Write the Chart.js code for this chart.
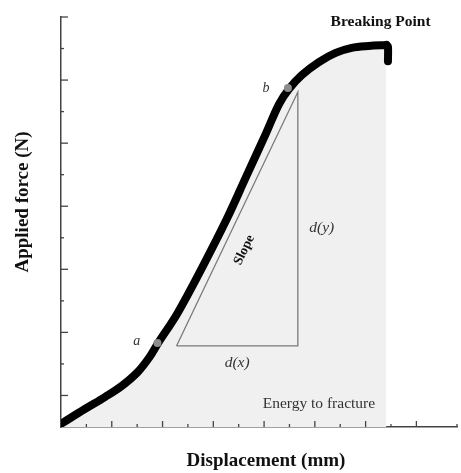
<!DOCTYPE html>
<html><head><meta charset="utf-8">
<script src="https://cdn.jsdelivr.net/npm/chart.js@4.4.0/dist/chart.umd.min.js"></script>
<style>html,body{margin:0;padding:0;background:#fff}#wrap{width:461px;height:473px}</style>
</head><body><div id="wrap"><canvas id="c" width="461" height="473"></canvas></div>
<script>
// Force–displacement curve (relative units)
const curveX = [0.00, 0.94, 1.73, 2.39, 3.02, 3.49, 3.80, 4.59, 5.57, 6.51, 7.29, 8.08, 8.59, 8.98, 9.49, 10.16, 10.82, 11.45, 12.12, 12.82];
const curveY = [0.10, 0.57, 0.95, 1.30, 1.74, 2.22, 2.63, 3.61, 5.07, 6.56, 7.93, 9.32, 10.24, 10.72, 11.16, 11.57, 11.86, 12.02, 12.08, 12.11];
// Break (drop at the end)
const breakX = [12.82, 12.88, 12.88];
const breakY = [12.11, 12.06, 11.60];
// Marked points a and b
const markerLabels = ['a', 'b'];
const markerX = [3.80, 8.94];
const markerY = [2.66, 10.75];
// Slope triangle
const triangleX = [4.55, 9.33, 9.33, 4.55];
const triangleY = [2.57, 2.57, 10.62, 2.57];
// Axis ranges / tick steps
const xMax = 15.6, yMax = 13, tickStep = 1;
// Text
const xTitle = 'Displacement (mm)';
const yTitle = 'Applied force (N)';
const notes = [
  {text: 'a', x: 2.98, y: 2.73, font: 'italic 14px "Liberation Serif", serif', color: '#333', rot: 0},
  {text: 'b', x: 8.08, y: 10.75, font: 'italic 14px "Liberation Serif", serif', color: '#333', rot: 0},
  {text: 'Slope', x: 7.22, y: 5.61, font: 'bold 13.5px "Liberation Serif", serif', color: '#111', rot: -64},
  {text: 'd(y)', x: 10.27, y: 6.31, font: 'italic 15.5px "Liberation Serif", serif', color: '#333', rot: 0},
  {text: 'd(x)', x: 6.94, y: 2.03, font: 'italic 15.5px "Liberation Serif", serif', color: '#333', rot: 0},
  {text: 'Energy to fracture', x: 10.16, y: 0.73, font: '15.5px "Liberation Serif", serif', color: '#333', rot: 0},
  {text: 'Breaking Point', x: 12.59, y: 12.84, font: 'bold 15.5px "Liberation Serif", serif', color: '#111', rot: 0}
];

const zip = (xs, ys) => xs.map((x, i) => ({x, y: ys[i]}));

const decor = {
  id: 'decor',
  afterDraw(chart) {
    const ctx = chart.ctx, xs = chart.scales.x, ys = chart.scales.y;
    const area = chart.chartArea;
    ctx.save();
    ctx.strokeStyle = '#444';
    ctx.lineWidth = 1.3;
    xs.ticks.forEach(t => {
      if (t.value === 0) return;
      const px = xs.getPixelForValue(t.value);
      const len = (t.value % 2 === 0) ? 6 : 3;
      ctx.beginPath(); ctx.moveTo(px, area.bottom); ctx.lineTo(px, area.bottom - len); ctx.stroke();
    });
    ys.ticks.forEach(t => {
      if (t.value === 0) return;
      const py = ys.getPixelForValue(t.value);
      const len = (t.value % 2 === 1) ? 7 : 3;
      ctx.beginPath(); ctx.moveTo(area.left, py); ctx.lineTo(area.left + len, py); ctx.stroke();
    });
    ctx.textAlign = 'center';
    ctx.textBaseline = 'middle';
    notes.forEach(n => {
      ctx.save();
      ctx.translate(xs.getPixelForValue(n.x), ys.getPixelForValue(n.y));
      ctx.rotate(n.rot * Math.PI / 180);
      ctx.font = n.font; ctx.fillStyle = n.color;
      ctx.fillText(n.text, 0, 0);
      ctx.restore();
    });
    ctx.font = 'bold 19px "Liberation Serif", serif';
    ctx.fillStyle = '#111';
    ctx.fillText(xTitle, 266, 461);
    ctx.save();
    ctx.translate(23, 202);
    ctx.rotate(-Math.PI / 2);
    ctx.fillText(yTitle, 0, 0);
    ctx.restore();
    ctx.restore();
  }
};

new Chart(document.getElementById('c'), {
  type: 'line',
  data: {
    datasets: [
      {data: zip(markerX, markerY), type: 'scatter', pointRadius: 4, pointBackgroundColor: '#8c8c8c', pointBorderWidth: 0, order: 0},
      {data: zip(breakX, breakY), borderColor: '#000', borderWidth: 8, borderCapStyle: 'round', borderJoinStyle: 'round', pointRadius: 0, tension: 0.3, fill: false, order: 1},
      {data: zip(curveX, curveY), borderColor: '#000', borderWidth: 8, borderCapStyle: 'round', borderJoinStyle: 'round', pointRadius: 0, tension: 0.35, fill: 'origin', backgroundColor: '#f0f0f0', order: 2},
      {data: zip(triangleX, triangleY), borderColor: '#7a7a7a', borderWidth: 1.3, pointRadius: 0, tension: 0, fill: false, order: 3}
    ]
  },
  options: {
    responsive: false,
    animation: false,
    layout: {padding: {left: 61, top: 17, right: 2, bottom: 46}},
    plugins: {legend: {display: false}, tooltip: {enabled: false}, filler: {drawTime: 'beforeDatasetsDraw'}},
    scales: {
      x: {type: 'linear', min: 0, max: xMax, ticks: {display: false, stepSize: tickStep}, grid: {display: false, drawTicks: false}, border: {display: true, color: '#444', width: 1.5}},
      y: {type: 'linear', min: 0, max: yMax, ticks: {display: false, stepSize: tickStep}, grid: {display: false, drawTicks: false}, border: {display: true, color: '#444', width: 1.5}}
    }
  },
  plugins: [decor]
});
</script></body></html>
